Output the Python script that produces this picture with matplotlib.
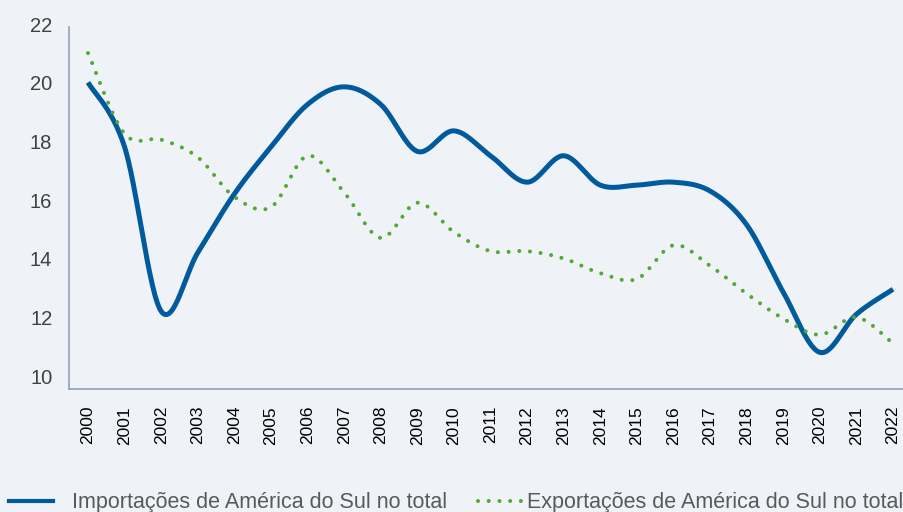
import numpy as np
import matplotlib
matplotlib.use("Agg")
import matplotlib.pyplot as plt
import matplotlib.transforms as mtransforms
from matplotlib.lines import Line2D

plt.rcParams['font.family'] = ['Liberation Sans', 'DejaVu Sans']

years = list(range(2000, 2023))
importacoes = [20.1, 17.9, 12.3, 14.3, 16.3, 17.9, 19.35, 19.95, 19.35, 17.75,
               18.45, 17.6, 16.7, 17.6, 16.6, 16.6, 16.7, 16.4, 15.25, 12.95,
               10.9, 12.2, 13.05]
exportacoes = [21.1, 18.35, 18.15, 17.55, 16.2, 15.85, 17.6, 16.35, 14.8, 16.0,
               15.0, 14.35, 14.35, 14.1, 13.6, 13.4, 14.55, 13.85, 12.9, 12.05,
               11.5, 12.1, 11.2]
yticks = [10, 12, 14, 16, 18, 20, 22]
lab_imp = 'Importações de América do Sul no total'
lab_exp = 'Exportações de América do Sul no total'

BG = '#eff3f8'
BLUE = '#005a9c'
GREEN = '#55a733'


def smooth(xs, ys, n=30):
    # bezier smoothing through each point, like a spreadsheet "smoothed line"
    xs = np.asarray(xs, float)
    ys = np.asarray(ys, float)
    px = np.concatenate([[xs[0]], xs, [xs[-1]]])
    py = np.concatenate([[ys[0]], ys, [ys[-1]]])
    outx, outy = [], []
    t = np.linspace(0, 1, n)
    for i in range(1, len(px) - 2):
        x0, y0 = px[i], py[i]
        x3, y3 = px[i + 1], py[i + 1]
        x1 = x0 + (px[i + 1] - px[i - 1]) / 6
        y1 = y0 + (py[i + 1] - py[i - 1]) / 6
        x2 = x3 - (px[i + 2] - px[i]) / 6
        y2 = y3 - (py[i + 2] - py[i]) / 6
        bx = (1-t)**3*x0 + 3*(1-t)**2*t*x1 + 3*(1-t)*t**2*x2 + t**3*x3
        by = (1-t)**3*y0 + 3*(1-t)**2*t*y1 + 3*(1-t)*t**2*y2 + t**3*y3
        outx.append(bx)
        outy.append(by)
    return np.concatenate(outx), np.concatenate(outy)


fig = plt.figure(figsize=(9.04, 5.12), dpi=100, facecolor=BG)
ax = fig.add_axes([0.0763, 0.2396, 0.9237, 0.7083], facecolor=BG)

x = np.arange(len(years))
sx, sy = smooth(x, importacoes)
ax.plot(sx, sy, color=BLUE, lw=3.6, solid_capstyle='butt', solid_joinstyle='round')
sx, sy = smooth(x, exportacoes)
ax.plot(sx, sy, color=GREEN, lw=2.9, linestyle=(0, (0.01, 2.65)),
        dash_capstyle='round')

ax.set_xlim(-0.52, 22.3)
ax.set_ylim(9.64, 22)
ax.set_yticks(yticks)
ax.set_xticks(x)
ax.set_xticklabels([str(y) for y in years], rotation=90, fontsize=12.5, color='black')
ax.tick_params(axis='y', length=0, pad=12, labelsize=14.5, labelcolor='#404040')
ax.tick_params(axis='x', length=0, pad=12)

# value labels sit a touch above their levels
shift = mtransforms.ScaledTranslation(0, 2.5 / 100, fig.dpi_scale_trans)
for lbl in ax.get_yticklabels():
    lbl.set_transform(lbl.get_transform() + shift)

for s in ['top', 'right']:
    ax.spines[s].set_visible(False)
for s in ['left', 'bottom']:
    ax.spines[s].set_color('#8ea2bd')
    ax.spines[s].set_linewidth(1.2)

h1 = Line2D([], [], color=BLUE, lw=3.0)
h2 = Line2D([], [], color=GREEN, lw=2.9, linestyle=(0, (0.01, 2.65)), dash_capstyle='round')
leg1 = fig.legend(handles=[h1], labels=[lab_imp], loc='center left',
                  bbox_to_anchor=(0.01, 0.018), frameon=False, fontsize=15.5,
                  handlelength=2.05, handletextpad=0.88, borderaxespad=0,
                  borderpad=0, labelcolor='#595959')
leg2 = fig.legend(handles=[h2], labels=[lab_exp], loc='center left',
                  bbox_to_anchor=(0.529, 0.018), frameon=False, fontsize=15.5,
                  handlelength=2.2, handletextpad=0.05, borderaxespad=0,
                  borderpad=0, labelcolor='#595959')

fig.savefig('out.png', dpi=100, facecolor=BG)
